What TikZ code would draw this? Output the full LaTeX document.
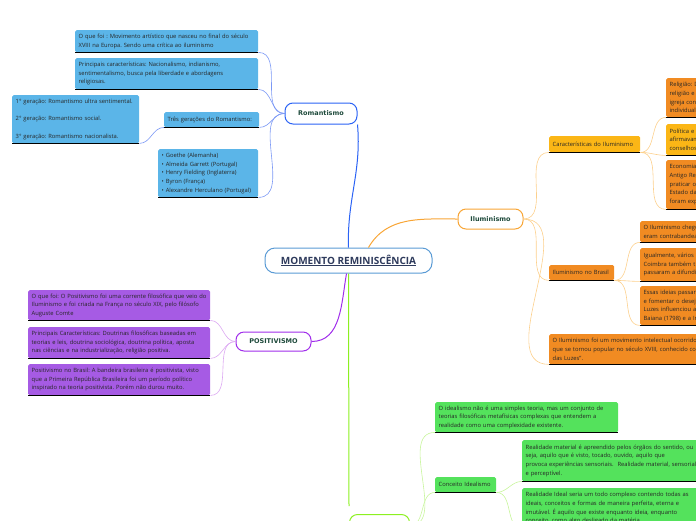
\documentclass[tikz,border=0pt]{standalone}
\usepackage{fontspec}
\setmainfont{Open Sans}
\newfontfamily\headfont{DejaVu Sans}
\usepackage{xcolor}
\usepackage{tikz}
\frenchspacing
\definecolor{romline}{HTML}{2B63F5}
\definecolor{romtwig}{HTML}{7B98F5}
\definecolor{romfill}{HTML}{5BB5E8}
\definecolor{midline}{HTML}{5A9BD5}
\definecolor{midtext}{HTML}{2E3A5C}
\definecolor{iluline}{HTML}{F8A535}
\definecolor{ilutwig}{HTML}{FCD08C}
\definecolor{carfill}{HTML}{FBB616}
\definecolor{orfill}{HTML}{F18B22}
\definecolor{posline}{HTML}{A02DEB}
\definecolor{postwig}{HTML}{DCA8F2}
\definecolor{posfill}{HTML}{A65BE4}
\definecolor{greline}{HTML}{8CF020}
\definecolor{gretwig}{HTML}{C8F59C}
\definecolor{grefill}{HTML}{54E25C}
\definecolor{titletext}{HTML}{1E4A3B}
\definecolor{baseline}{HTML}{363636}

\begin{document}
\begin{tikzpicture}[x=1pt,y=-1pt,
  leaf/.style={rectangle, rounded corners=1.5pt, anchor=north west,
    inner xsep=3.5pt, inner ysep=2pt, align=left, text=black!85,
    font=\frenchspacing\fontsize{5.8}{8.7}\selectfont},
  topic/.style={rectangle, rounded corners=8pt, draw, line width=1pt,
    fill=white, text=titletext,
    font=\headfont\bfseries\fontsize{6.5}{8}\selectfont},
  twig/.style={line width=0.6pt}]
\useasboundingbox (0,0) rectangle (696,520);
\clip (0,0) rectangle (696,520);

% central topic
\node[topic, draw=midline, rounded corners=10pt, minimum width=167pt,
  minimum height=25pt, text=midtext,
  font=\bfseries\fontsize{10}{12}\selectfont] (mid) at (348.5,260.5)
  {\underline{MOMENTO REMINISCÊNCIA}};

% Romantismo
\node[topic, draw=romline, minimum width=72pt, minimum height=21pt]
  (rom) at (321,113.5) {Romantismo};
\node[leaf, fill=romfill, text width=176pt, minimum height=22pt] (r1) at (75,30)
  {O que foi : Movimento artístico que nasceu no final do século\\
   XVIII na Europa. Sendo uma crítica ao iluminismo};
\node[leaf, fill=romfill, text width=176pt, minimum height=31pt] (r2) at (75,58)
  {Principais características: Nacionalismo, indianismo,\\
   sentimentalismo, busca pela liberdade e abordagens\\
   religiosas.};
\node[leaf, fill=romfill, text width=88pt, minimum height=15pt] (r3) at (164,112)
  {Três gerações do Romantismo:};
\node[leaf, fill=romfill, text width=120pt, minimum height=48pt] (r3a) at (12,95)
  {1° geração: Romantismo ultra sentimental.\\[8.7pt]
   2° geração: Romantismo social.\\[8.7pt]
   3° geração: Romantismo nacionalista.};
\node[leaf, fill=romfill, text width=93pt, minimum height=48pt] (r4) at (158,149)
  {• Goethe (Alemanha)\\
   • Almeida Garrett (Portugal)\\
   • Henry Fielding (Inglaterra)\\
   • Byron (França)\\
   • Alexandre Herculano (Portugal)};

% Iluminismo
\node[topic, draw=iluline, minimum width=65pt, minimum height=20pt]
  (ilu) at (490.5,219) {Iluminismo};
\node[leaf, fill=carfill, text width=84pt, minimum height=16pt] (car) at (549,136)
  {Características do Iluminismo};
\node[leaf, fill=orfill, text width=120pt, minimum height=39pt] (ca) at (666,78)
  {Religião: Deus\\religião e\\igreja contra\\individualismo};
\node[leaf, fill=carfill, text width=120pt, minimum height=31pt] (cb) at (666,124)
  {Política e\\afirmavam\\conselhos};
\node[leaf, fill=orfill, text width=120pt, minimum height=49pt] (cc) at (666,160)
  {Economia:\\Antigo Regime\\praticar o\\Estado da\\foram explorados};
\node[leaf, fill=orfill, text width=58pt, minimum height=15pt] (bra) at (549,265)
  {Iluminismo no Brasil};
\node[leaf, fill=orfill, text width=120pt, minimum height=21pt] (ba) at (640,221)
  {O Iluminismo chegou\\eram contrabandeados};
\node[leaf, fill=orfill, text width=120pt, minimum height=33pt] (bb) at (640,248)
  {Igualmente, vários\\Coimbra também tiveram\\passaram a difundir};
\node[leaf, fill=orfill, text width=120pt, minimum height=39pt] (bc) at (640,286)
  {Essas ideias passaram\\e fomentar o desejo\\Luzes influenciou a\\Baiana (1798) e a Inconfidência};
\node[leaf, fill=orfill, text width=200pt, minimum height=30pt] (ilg) at (549,334)
  {O Iluminismo foi um movimento intelectual ocorrido na Europa\\
   que se tornou popular no século XVIII, conhecido como\\
   das Luzes".};

% Positivismo
\node[topic, draw=posline, minimum width=75pt, minimum height=19pt]
  (pos) at (273.5,341.5) {POSITIVISMO};
\node[leaf, fill=posfill, text width=175pt, minimum height=30pt] (p1) at (28,290)
  {O que foi: O Positivismo foi uma corrente filosófica que veio do\\
   Iluminismo e foi criada na França no século XIX, pelo filósofo\\
   Auguste Comte};
\node[leaf, fill=posfill, text width=175pt, minimum height=31pt] (p2) at (28,327)
  {Principais Características: Doutrinas filosóficas baseadas em\\
   teorias e leis, doutrina sociológica, doutrina política, aposta\\
   nas ciências e na industrialização, religião positiva.};
\node[leaf, fill=posfill, text width=175pt, minimum height=31pt] (p3) at (28,364)
  {Positivismo no Brasil: A bandeira brasileira é positivista, visto\\
   que a Primeira República Brasileira foi um período político\\
   inspirado na teoria positivista. Porém não durou muito.};

% Idealismo
\node[topic, draw=greline, anchor=north west, minimum width=60pt,
  minimum height=22pt] (ide) at (349,514) {};
\node[leaf, fill=grefill, text width=176pt, minimum height=30pt] (g1) at (435,402)
  {O idealismo não é uma simples teoria, mas um conjunto de\\
   teorias filosóficas metafísicas complexas que entendem a\\
   realidade como uma complexidade existente.};
\node[leaf, fill=grefill, text width=54pt, minimum height=15pt] (g2) at (435,477)
  {Conceito Idealismo};
\node[leaf, fill=grefill, text width=200pt, minimum height=41pt] (g2a) at (522,440)
  {Realidade material é apreendido pelos órgãos do sentido, ou\\
   seja, aquilo que é visto, tocado, ouvido, aquilo que\\
   provoca experiências sensoriais.\ \ Realidade material, sensorial\\
   e perceptível.};
\node[leaf, fill=grefill, text width=200pt, minimum height=40pt] (g2b) at (522,488)
  {Realidade Ideal seria um todo complexo contendo todas as\\
   ideais, conceitos e formas de maneira perfeita, eterna e\\
   imutável. É aquilo que existe enquanto ideia, enquanto\\
   conceito, como algo desligado da matéria.};

% dark base line under every leaf
\foreach \n in {r1,r2,r3,r3a,r4,car,ca,cb,cc,bra,ba,bb,bc,ilg,p1,p2,p3,g1,g2,g2a,g2b}
  \draw[baseline, line width=1.3pt] (\n.south west) -- (\n.south east);

% main branches
\draw[romline, line width=1pt] (rom.south east) to[out=-85,in=92] (mid.north);
\draw[iluline, line width=1pt] ([xshift=20pt]mid.north) to[out=60,in=180] (ilu.west);
\draw[posline, line width=1pt] ([xshift=-2pt]mid.south) to[out=-100,in=0] (pos.east);
\draw[greline, line width=1pt] (mid.south) -- ([yshift=8pt]ide.north west);

% twigs
\foreach \n in {r1,r2,r3,r4}
  \draw[romtwig, twig] (rom.west) to[out=180,in=0] (\n.south east);
\draw[romtwig, twig] (r3.south west) to[out=180,in=0] (r3a.south east);
\foreach \n in {car,bra,ilg}
  \draw[ilutwig, twig] (ilu.east) to[out=0,in=180] (\n.south west);
\foreach \n in {ca,cb,cc}
  \draw[ilutwig, twig] (car.south east) to[out=0,in=180] (\n.south west);
\foreach \n in {ba,bb,bc}
  \draw[ilutwig, twig] (bra.south east) to[out=0,in=180] (\n.south west);
\foreach \n in {p1,p2,p3}
  \draw[postwig, twig] (pos.west) to[out=180,in=0] (\n.south east);
\foreach \n in {g1,g2}
  \draw[gretwig, twig] (ide.east) to[out=0,in=180] (\n.south west);
\foreach \n in {g2a,g2b}
  \draw[gretwig, twig] (g2.south east) to[out=0,in=180] (\n.south west);
\end{tikzpicture}
\end{document}
